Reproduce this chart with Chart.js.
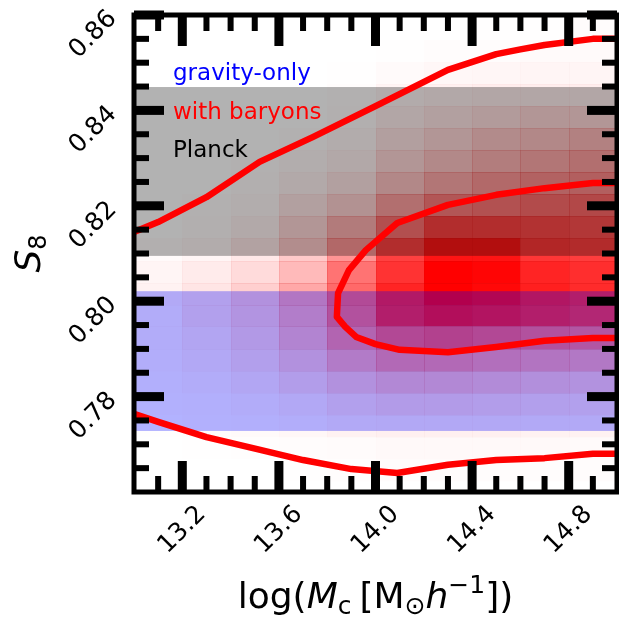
<!DOCTYPE html>
<html>
<head>
<meta charset="utf-8">
<script src="https://cdn.jsdelivr.net/npm/chart.js@4.4.1/dist/chart.umd.min.js"></script>
<style>
    html, body { margin: 0; padding: 0; background: #ffffff; }
    canvas { display: block; }
</style>
</head>
<body>
<canvas id="chart" width="619" height="617"></canvas>
<script>
'use strict';

// --- Data ---
// Bin edges of the posterior histogram
const mcEdges = [13.0, 13.2, 13.4, 13.6, 13.8, 14.0, 14.2, 14.4, 14.6, 14.8, 15.0];
const s8Edges = [0.7623, 0.7669, 0.7715, 0.7762, 0.7808, 0.7854, 0.7900, 0.7947, 0.7993, 0.8039, 0.8085,
                 0.8132, 0.8178, 0.8224, 0.8270, 0.8317, 0.8363, 0.8409, 0.8455, 0.8501, 0.8548, 0.8594];

// Posterior (with baryons), peak = 1. One row per S8 bin, bottom to top; one value per log(Mc) bin.
const posteriorRows = [
    [0, 0, 0, 0.005, 0.008, 0.01, 0.01, 0.01, 0.01, 0.01],
    [0, 0.003, 0.006, 0.01, 0.015, 0.025, 0.025, 0.025, 0.025, 0.02],
    [0.005, 0.01, 0.02, 0.03, 0.05, 0.06, 0.06, 0.06, 0.05, 0.05],
    [0.01, 0.02, 0.04, 0.06, 0.10, 0.13, 0.13, 0.12, 0.11, 0.10],
    [0.02, 0.04, 0.07, 0.12, 0.19, 0.24, 0.24, 0.22, 0.20, 0.18],
    [0.03, 0.06, 0.11, 0.19, 0.31, 0.41, 0.41, 0.38, 0.35, 0.33],
    [0.04, 0.08, 0.14, 0.26, 0.44, 0.60, 0.64, 0.60, 0.55, 0.52],
    [0.04, 0.10, 0.17, 0.30, 0.55, 0.83, 0.92, 0.89, 0.83, 0.78],
    [0.05, 0.10, 0.19, 0.34, 0.59, 0.86, 1.00, 0.97, 0.88, 0.83],
    [0.04, 0.08, 0.14, 0.27, 0.55, 0.80, 1.00, 0.98, 0.86, 0.82],
    [0.02, 0.04, 0.09, 0.21, 0.42, 0.75, 0.92, 0.92, 0.79, 0.76],
    [0.005, 0.02, 0.05, 0.16, 0.31, 0.56, 0.75, 0.75, 0.72, 0.69],
    [0, 0.01, 0.03, 0.10, 0.18, 0.38, 0.52, 0.55, 0.58, 0.60],
    [0, 0, 0.02, 0.05, 0.10, 0.24, 0.34, 0.41, 0.45, 0.47],
    [0, 0, 0.01, 0.03, 0.06, 0.16, 0.23, 0.30, 0.34, 0.38],
    [0, 0, 0, 0.015, 0.04, 0.11, 0.16, 0.22, 0.24, 0.28],
    [0, 0, 0, 0.005, 0.02, 0.07, 0.10, 0.13, 0.16, 0.16],
    [0, 0, 0, 0, 0.01, 0.045, 0.06, 0.07, 0.07, 0.07],
    [0, 0, 0, 0, 0.005, 0.02, 0.03, 0.035, 0.04, 0.04],
    [0, 0, 0, 0, 0, 0.005, 0.01, 0.01, 0.02, 0.02],
    [0, 0, 0, 0, 0, 0, 0, 0.005, 0.005, 0.01]
];

// S8 ranges of the reference bands
const planckBand = [0.8095, 0.8449];
const gravityOnlyBand = [0.7728, 0.8021];

// Contours of the posterior
const innerMc = [15.0, 14.9, 14.7, 14.5, 14.3, 14.09, 13.96, 13.89, 13.845, 13.84, 13.875, 13.92, 14.0, 14.1, 14.3, 14.5, 14.7, 14.9, 15.0];
const innerS8 = [0.8248, 0.8248, 0.8237, 0.8223, 0.8202, 0.8164, 0.8107, 0.8065, 0.8017, 0.7967, 0.7946, 0.7925, 0.7910, 0.7898, 0.7893, 0.7904, 0.7917, 0.7923, 0.7923];
const outerUpperMc = [13.0, 13.1, 13.3, 13.52, 13.74, 14.0, 14.3, 14.5, 14.6, 14.7, 14.9, 15.0];
const outerUpperS8 = [0.8145, 0.8166, 0.8218, 0.8292, 0.8344, 0.8409, 0.8485, 0.8518, 0.8528, 0.8537, 0.8550, 0.8550];
const outerLowerMc = [13.0, 13.1, 13.3, 13.51, 13.7, 13.9, 14.09, 14.3, 14.5, 14.7, 14.9, 15.0];
const outerLowerS8 = [0.7764, 0.7747, 0.7715, 0.7690, 0.7667, 0.7648, 0.7640, 0.7657, 0.7667, 0.7671, 0.7680, 0.7680];

// Ticks
const xMajorTicks = [13.2, 13.6, 14.0, 14.4, 14.8];
const xTickLabels = ['13.2', '13.6', '14.0', '14.4', '14.8'];
const xMinorTicks = [13.1, 13.3, 13.4, 13.5, 13.7, 13.8, 13.9, 14.1, 14.2, 14.3, 14.5, 14.6, 14.7, 14.9];
const yMajorTicks = [0.78, 0.80, 0.82, 0.84, 0.86];
const yTickLabels = ['0.78', '0.80', '0.82', '0.84', '0.86'];
const yMinorTicks = [0.765, 0.77, 0.775, 0.785, 0.79, 0.795, 0.805, 0.81, 0.815, 0.825, 0.83, 0.835, 0.845, 0.85, 0.855];

// Text legend
const legendLabels = ['gravity-only', 'with baryons', 'Planck'];
const legendColors = ['#0000ff', '#ff0000', '#000000'];

const FONT = '"DejaVu Sans", "Noto Sans", sans-serif';

const toPoints = (xs, ys) => xs.map((x, i) => ({ x: x, y: ys[i] }));

// Draws a run of text pieces (font, vertical shift) next to each other
function drawRich(ctx, parts, x, y, align) {
    let total = 0;
    parts.forEach(p => {
        ctx.font = p.font;
        p.w = ctx.measureText(p.text).width + (p.gap || 0);
        total += p.w;
    });
    let cx = align === 'center' ? x - total / 2 : x;
    parts.forEach(p => {
        ctx.font = p.font;
        ctx.fillText(p.text, cx, y + (p.dy || 0));
        cx += p.w;
    });
}

// --- Heatmap + bands, under the contour lines ---
const heatmapPlugin = {
    id: 'heatmap',
    beforeDatasetsDraw(chart) {
        const { ctx, chartArea, scales } = chart;
        const xs = scales.x, ys = scales.y;
        ctx.save();
        ctx.beginPath();
        ctx.rect(chartArea.left, chartArea.top, chartArea.width, chartArea.height);
        ctx.clip();

        posteriorRows.forEach((row, j) => {
            const yTop = Math.round(ys.getPixelForValue(s8Edges[j + 1]));
            const yBot = Math.round(ys.getPixelForValue(s8Edges[j]));
            row.forEach((a, i) => {
                if (a <= 0) return;
                const xl = Math.round(xs.getPixelForValue(mcEdges[i]));
                const xr = Math.round(xs.getPixelForValue(mcEdges[i + 1]));
                ctx.fillStyle = 'rgba(255,0,0,' + a + ')';
                ctx.fillRect(xl, yTop, xr - xl, yBot - yTop);
                // faint cell seams
                ctx.strokeStyle = 'rgba(200,0,0,' + Math.min(0.1, a * 0.25) + ')';
                ctx.lineWidth = 1;
                ctx.strokeRect(xl + 0.5, yTop + 0.5, xr - xl, yBot - yTop);
            });
        });

        const band = (range, color) => {
            const yTop = ys.getPixelForValue(range[1]);
            const yBot = ys.getPixelForValue(range[0]);
            ctx.fillStyle = color;
            ctx.fillRect(chartArea.left, yTop, chartArea.width, yBot - yTop);
        };
        band(planckBand, 'rgba(0,0,0,0.3)');
        band(gravityOnlyBand, 'rgba(0,0,255,0.3)');
        ctx.restore();
    }
};

// --- Frame, inward ticks, labels and titles ---
const framePlugin = {
    id: 'frame',
    afterDatasetsDraw(chart) {
        const { ctx, chartArea, scales } = chart;
        const xs = scales.x, ys = scales.y;
        const { left, right, top, bottom } = chartArea;
        ctx.save();
        ctx.fillStyle = '#000000';

        const xTick = (v, len, w) => {
            const px = xs.getPixelForValue(v);
            ctx.fillRect(px - w / 2, bottom - len, w, len);
            ctx.fillRect(px - w / 2, top, w, len);
        };
        const yTick = (v, len, w) => {
            const py = ys.getPixelForValue(v);
            ctx.fillRect(left, py - w / 2, len, w);
            ctx.fillRect(right - len, py - w / 2, len, w);
        };
        xMinorTicks.forEach(v => xTick(v, 16, 6));
        xMajorTicks.forEach(v => xTick(v, 31, 9));
        yMinorTicks.forEach(v => yTick(v, 15, 6));
        yMajorTicks.forEach(v => yTick(v, 30, 9));

        ctx.strokeStyle = '#000000';
        ctx.lineWidth = 5;
        ctx.strokeRect(left, top, right - left, bottom - top);

        // Tick labels, rotated 45 degrees
        ctx.font = '25px ' + FONT;
        ctx.textBaseline = 'middle';
        xMajorTicks.forEach((v, i) => {
            ctx.save();
            ctx.translate(xs.getPixelForValue(v), bottom + 38);
            ctx.rotate(-Math.PI / 4);
            ctx.textAlign = 'center';
            ctx.fillText(xTickLabels[i], 0, 0);
            ctx.restore();
        });
        yMajorTicks.forEach((v, i) => {
            ctx.save();
            ctx.translate(left - 21, ys.getPixelForValue(v));
            ctx.rotate(-Math.PI / 4);
            ctx.textAlign = 'right';
            ctx.fillText(yTickLabels[i], 0, 0);
            ctx.restore();
        });

        // Axis titles
        ctx.textAlign = 'left';
        ctx.textBaseline = 'alphabetic';
        const big = '36px ' + FONT;
        const bigIt = 'oblique 36px ' + FONT;
        const small = '25px ' + FONT;
        drawRich(ctx, [
            { text: 'log(', font: big },
            { text: 'M', font: bigIt },
            { text: 'c', font: small, dy: 6, gap: 8 },
            { text: '[M', font: big },
            { text: '\u2299', font: small, dy: 6 },
            { text: 'h', font: bigIt },
            { text: '\u22121', font: small, dy: -15 },
            { text: '])', font: big }
        ], (left + right) / 2, 608, 'center');

        ctx.save();
        ctx.translate(40, (top + bottom) / 2);
        ctx.rotate(-Math.PI / 2);
        drawRich(ctx, [
            { text: 'S', font: bigIt },
            { text: '8', font: '24px ' + FONT, dy: 6 }
        ], 0, 0, 'center');
        ctx.restore();

        // Legend text
        ctx.font = '23px ' + FONT;
        legendLabels.forEach((label, i) => {
            ctx.fillStyle = legendColors[i];
            ctx.fillText(label, left + 39, top + 65 + i * 38.5);
        });
        ctx.restore();
    }
};

const contourStyle = {
    showLine: true,
    borderColor: '#ff0000',
    borderWidth: 6.5,
    pointRadius: 0,
    fill: false,
    tension: 0,
    borderJoinStyle: 'round'
};

const chart = new Chart(document.getElementById('chart').getContext('2d'), {
    type: 'scatter',
    data: {
        datasets: [
            Object.assign({ label: 'inner', data: toPoints(innerMc, innerS8) }, contourStyle),
            Object.assign({ label: 'outer upper', data: toPoints(outerUpperMc, outerUpperS8) }, contourStyle),
            Object.assign({ label: 'outer lower', data: toPoints(outerLowerMc, outerLowerS8) }, contourStyle)
        ]
    },
    options: {
        responsive: false,
        animation: false,
        layout: { padding: { left: 134, right: 2, top: 15, bottom: 125 } },
        plugins: { legend: { display: false }, tooltip: { enabled: false } },
        scales: {
            x: { type: 'linear', min: 13, max: 15, display: false },
            y: { type: 'linear', min: 0.76, max: 0.86, display: false }
        }
    },
    plugins: [heatmapPlugin, framePlugin]
});
</script>
</body>
</html>
